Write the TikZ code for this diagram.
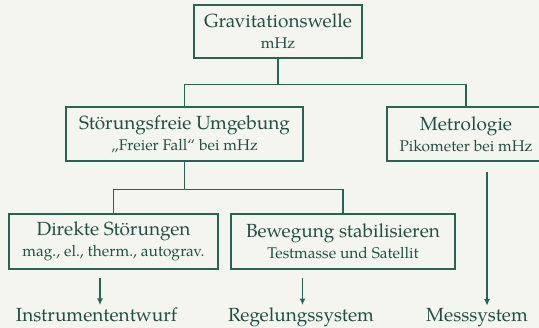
\documentclass[tikz,border=0pt]{standalone}
\usepackage{fontspec}
\setmainfont{TeX Gyre Pagella}
\usetikzlibrary{arrows.meta}
\definecolor{lisagreen}{RGB}{40,100,84}
\definecolor{lisapaper}{RGB}{245,245,240}
\newcommand{\kleinzeile}[1]{{\fontsize{15.5}{18}\selectfont #1}}

\begin{document}
\begin{tikzpicture}[style={
    box/.style={
      draw=lisagreen,
      line width=1.5pt,
      text=lisagreen!80!black,
      align=center,
      inner sep=0pt,
      font=\fontsize{19}{21}\selectfont,
    },
    result/.style={
      text=lisagreen!80!black,
      anchor=base,
      inner sep=0pt,
      font=\fontsize{19}{21}\selectfont,
    },
    branch/.style={draw=lisagreen, line width=1.5pt},
    myarrow/.style={-{Latex[length=6.5pt,width=6pt]}, draw=lisagreen, line width=1.5pt}
  }]
  \fill[lisapaper] (0,0) rectangle (539pt,-328pt);
  \useasboundingbox (0,0) rectangle (539pt,-328pt);
  \draw[draw=none]
    node[box, minimum width=168pt, minimum height=53pt] (grav) at (278pt,-31.5pt) {
      Gravitationswelle\\ \kleinzeile{mHz}
    }
    node[box, minimum width=237pt, minimum height=54pt] (stoer) at (184.5pt,-134pt) {
      Störungsfreie Umgebung\\ \kleinzeile{„Freier Fall“ bei mHz}
    }
    node[box, minimum width=176pt, minimum height=54pt] (metro) at (475pt,-134pt) {
      Metrologie\hspace*{18pt}\\ \kleinzeile{Pikometer bei mHz}\hspace*{18pt}
    }
    node[box, minimum width=209pt, minimum height=55pt] (direkt) at (113.5pt,-241.5pt) {
      Direkte Störungen\\ \kleinzeile{mag., el., therm., autograv.}
    }
    node[box, minimum width=224pt, minimum height=55pt] (beweg) at (343pt,-241.5pt) {
      Bewegung stabilisieren\\ \kleinzeile{Testmasse und Satellit}
    }
    node[result] (instr) at (96.5pt,-322pt) {Instrumententwurf}
    node[result] (regel) at (301pt,-322pt) {Regelungssystem}
    node[result] (mess) at (477pt,-322pt) {Messsystem}
  ;
  \draw[branch] (grav.south) -- ++(0,-26pt) -| ([xshift=-9pt]metro.north);
  \draw[branch] (grav.south) -- ++(0,-26pt) -| (stoer.north);
  \draw[branch] (stoer.south) -- ++(0,-28pt) -| (direkt.north);
  \draw[branch] (stoer.south) -- ++(0,-28pt) -| (beweg.north);
  \coordinate (a1) at (100pt,-278pt);
  \coordinate (a2) at (302.5pt,-278pt);
  \coordinate (a3) at (487pt,-172pt);
  \draw[myarrow] (a1) -- ([yshift=3pt]a1 |- instr.north);
  \draw[myarrow] (a2) -- ([yshift=3pt]a2 |- regel.north);
  \draw[myarrow] (a3) -- ([yshift=3pt]a3 |- mess.north);
\end{tikzpicture}
\end{document}
